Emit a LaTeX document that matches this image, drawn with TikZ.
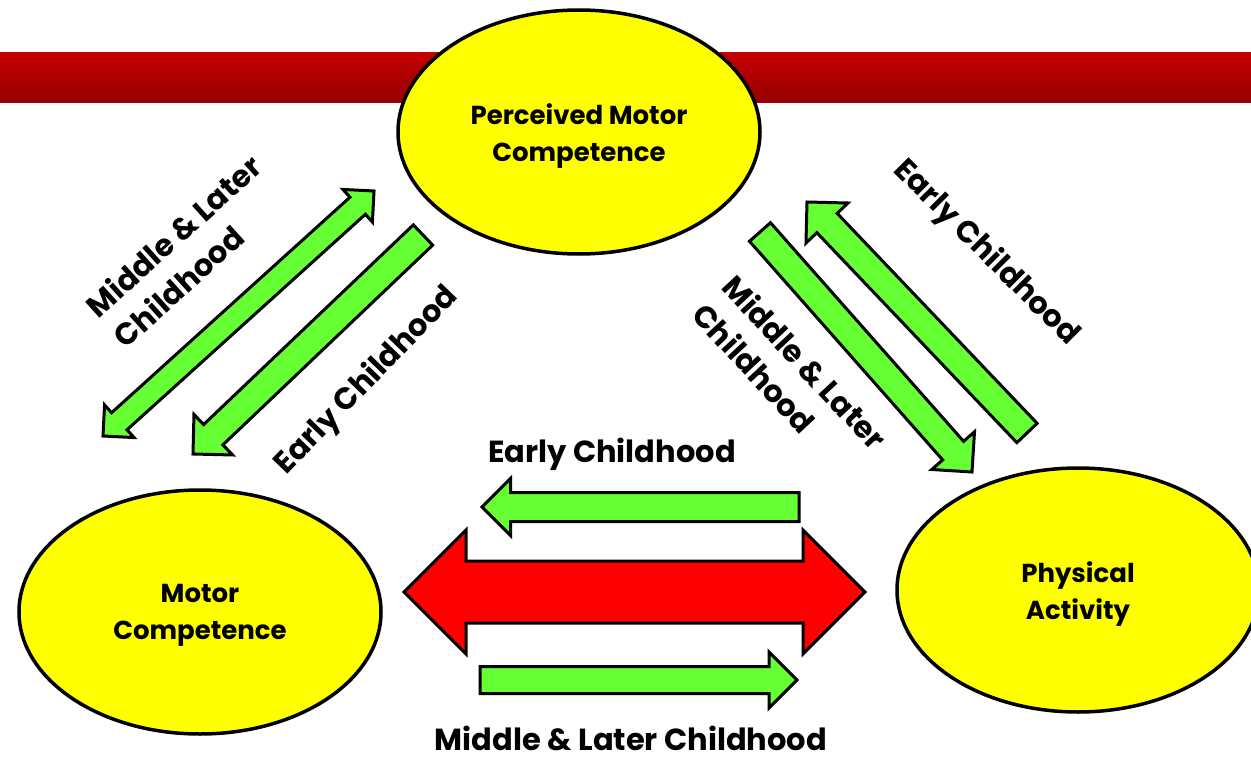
\documentclass[tikz,border=0pt]{standalone}
\usepackage{fontspec}
\setmainfont{Poppins}
\usetikzlibrary{calc,shapes.geometric}

\definecolor{barTop}{RGB}{196,0,0}
\definecolor{barBottom}{RGB}{150,0,0}
\definecolor{arrowGreen}{RGB}{102,255,51}
\definecolor{bubbleYellow}{RGB}{255,255,0}
\definecolor{bigRed}{RGB}{255,0,0}

% single block arrow: #1 style, #2 tail, #3 tip, #4 half shaft width, #5 half head width (= head length)
\newcommand\singleblock[5]{%
  \coordinate (hb) at ($(#3)!#5!(#2)$);
  \draw[#1] ($(#2)!#4!90:(#3)$) -- ($(hb)!#4!-90:(#2)$) -- ($(hb)!#5!-90:(#2)$)
    -- (#3) -- ($(hb)!#5!90:(#2)$) -- ($(hb)!#4!90:(#2)$) -- ($(#2)!#4!-90:(#3)$) -- cycle;
}
% double block arrow: #1 style, #2 first tip, #3 second tip, #4 half shaft, #5 half head (= head length)
\newcommand\doubleblock[5]{%
  \coordinate (ha) at ($(#3)!#5!(#2)$);
  \coordinate (hc) at ($(#2)!#5!(#3)$);
  \draw[#1] (#2) -- ($(hc)!#5!90:(#3)$) -- ($(hc)!#4!90:(#3)$) -- ($(ha)!#4!-90:(#2)$)
    -- ($(ha)!#5!-90:(#2)$) -- (#3) -- ($(ha)!#5!90:(#2)$) -- ($(ha)!#4!90:(#2)$)
    -- ($(hc)!#4!-90:(#3)$) -- ($(hc)!#5!-90:(#3)$) -- cycle;
}

\begin{document}
\begin{tikzpicture}[x=1pt,y=-1pt,
  bubble/.style={ellipse, draw=black, line width=3.5pt, fill=bubbleYellow,
    minimum width=362pt, minimum height=244pt, inner sep=0pt},
  bubbletext/.style={inner sep=0pt, align=center, font=\bfseries\fontsize{26}{37}\selectfont},
  greenblock/.style={draw=black, line width=3pt, line join=miter, fill=arrowGreen},
  redblock/.style={draw=black, line width=3pt, line join=miter, fill=bigRed},
  lbl/.style={inner sep=0pt, font=\bfseries\fontsize{30.5}{41}\selectfont}]
\useasboundingbox (0,0) rectangle (1251,760);

% header bar
\shade[top color=barTop, bottom color=barBottom] (0,53) rectangle (1251,102);

% the three constructs
\node[bubble] (pmc) at (579,132) {};
\node[bubble] (mc) at (200,612) {};
\node[bubble] (pa) at (1078,590) {};
\node[bubbletext] (pmc-txt) at ([yshift=-4pt]pmc.center) {Perceived Motor\\Competence};
\node[bubbletext] (mc-txt) at ([yshift=-3pt]mc.center) {Motor\\Competence};
\node[bubbletext] (pa-txt) at ([yshift=-4pt]pa.center) {Physical\\Activity};

% arrow end points
\coordinate (mlL-a) at (103,436);
\coordinate (mlL-b) at (374,191);
\coordinate (ecL-t) at (423,235);
\coordinate (ecL-h) at (193,454);
\coordinate (mlR-t) at (760,232);
\coordinate (mlR-h) at (972,472);
\coordinate (ecR-t) at (1027,433);
\coordinate (ecR-h) at (807,202);
\coordinate (ecH-t) at (799,507);
\coordinate (ecH-h) at (482,507);
\coordinate (mlH-t) at (480,680);
\coordinate (mlH-h) at (797,680);
\coordinate (red-a) at (404,592);
\coordinate (red-b) at (865,592);

% arrows
\doubleblock{greenblock}{mlL-a}{mlL-b}{11.5pt}{22pt}
\singleblock{greenblock}{ecL-t}{ecL-h}{14pt}{28pt}
\singleblock{greenblock}{mlR-t}{mlR-h}{14pt}{28.5pt}
\singleblock{greenblock}{ecR-t}{ecR-h}{14pt}{29pt}
\singleblock{greenblock}{ecH-t}{ecH-h}{14.5pt}{28.5pt}
\singleblock{greenblock}{mlH-t}{mlH-h}{13.5pt}{28pt}
\doubleblock{redblock}{red-a}{red-b}{31pt}{62pt}

% labels
\node[lbl, anchor=base] (ecTop) at (612,462) {Early Childhood};
\node[lbl, anchor=base] (mlBottom) at (631,750) {Middle \& Later Childhood};
\node[lbl, rotate=42, align=left] (mlLeft) at (187,251) {Middle \& Later\\Childhood};
\node[lbl, rotate=46] (ecLeft) at (367,381) {Early Childhood};
\node[lbl, rotate=-45] (ecRight) at (986,253) {Early Childhood};
\node[lbl, rotate=-47, align=left] (mlRight) at (790,376) {Middle \& Later\\Childhood};
\end{tikzpicture}
\end{document}
